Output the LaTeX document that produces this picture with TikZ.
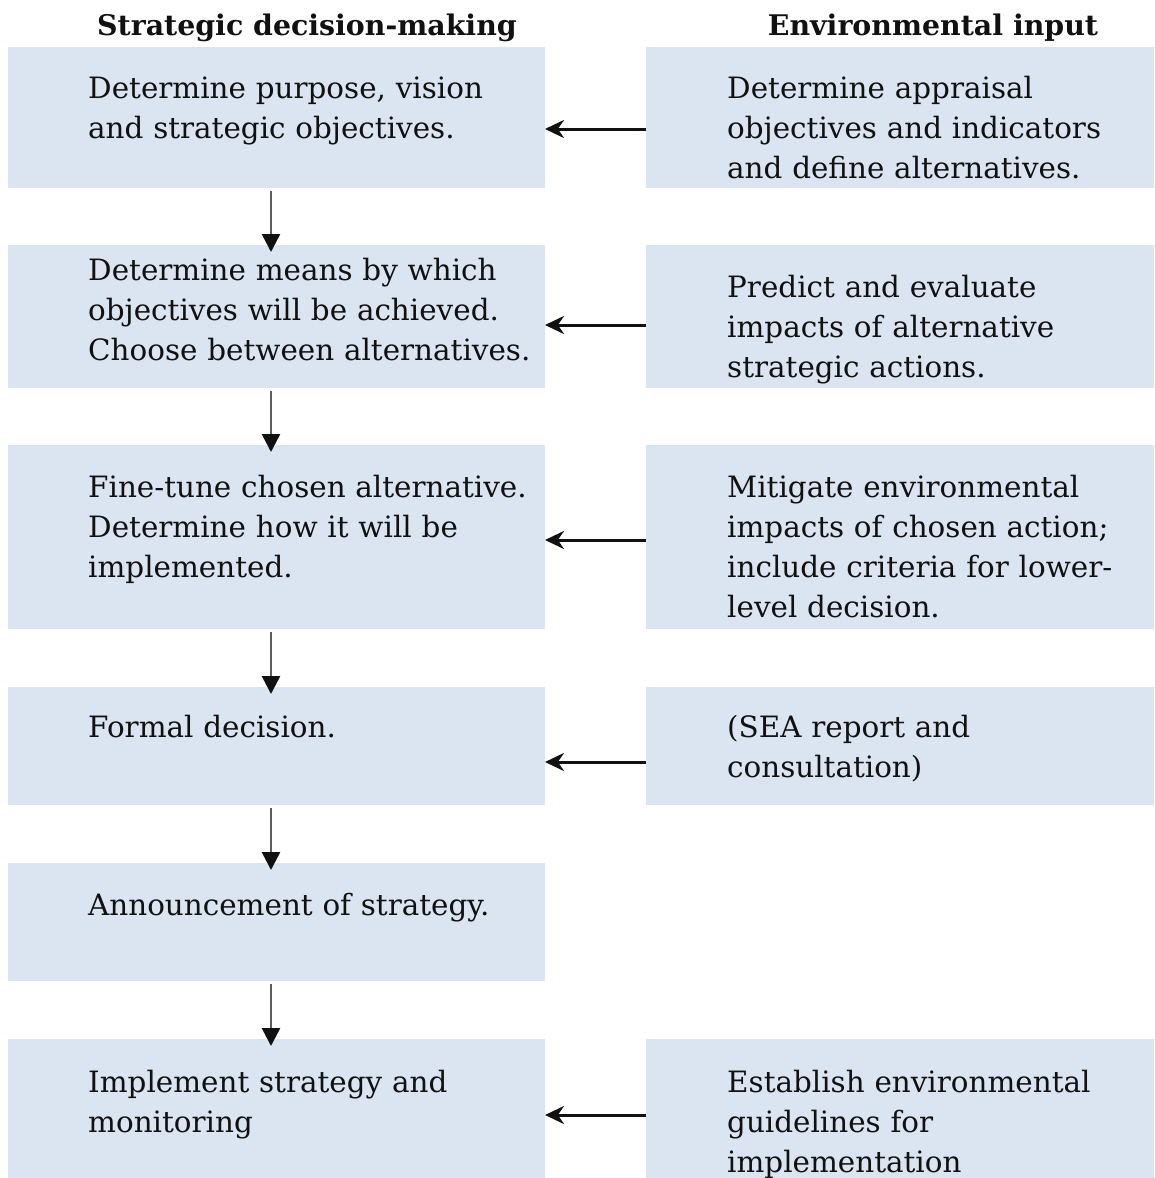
\documentclass[tikz,border=0pt]{standalone}
\usepackage{fontspec}
\setmainfont{DejaVu Serif}
\usepackage{xcolor}
\definecolor{panel}{HTML}{DBE5F1}
\definecolor{ink}{HTML}{111111}
\definecolor{stem}{HTML}{5E5E5E}
\usepackage{tikz}
\usetikzlibrary{arrows.meta,positioning}
\tikzset{
  stage/.style={fill=panel, minimum width=537pt, minimum height=#1, inner sep=0pt, outer sep=0pt},
  stage/.default=141pt,
  input/.style={stage=#1, minimum width=508pt},
  input/.default=141pt,
  body/.style={anchor=base west, inner sep=0pt, text=ink, align=left, text width=480pt, font=\fontsize{29.4}{40}\selectfont},
  head/.style={anchor=base, inner sep=0pt, text=ink, font=\bfseries\fontsize{28.4}{32}\selectfont},
  down/.style={draw=stem, line width=2.6pt, -{Triangle[length=18pt, width=18pt, color=ink]}, shorten <=3pt, shorten >=-7pt},
  feed/.style={draw=ink, line width=3pt, -{Stealth[length=19pt, width=18pt]}},
}

\begin{document}
\begin{tikzpicture}[x=1pt, y=-1pt, node distance=57pt]
  \useasboundingbox (0,0) rectangle (1154,1178);
  \node[head] (h-plan) at (307,35) {Strategic decision-making};
  \node[head] (h-env) at (933,35) {Environmental input};
  \node[stage=141pt] (purpose) at (276.5,117.5) {};
  \node[stage=143pt, below=of purpose] (means) {};
  \node[stage=184pt, below=of means] (tune) {};
  \node[stage=118pt, below=58pt of tune] (formal) {};
  \node[stage=118pt, below=58pt of formal] (announce) {};
  \node[stage=139pt, below=58pt of announce] (implement) {};
  \node[input=141pt, right=101pt of purpose] (appraisal) {};
  \node[input=143pt, right=101pt of means] (predict) {};
  \node[input=184pt, right=101pt of tune] (mitigate) {};
  \node[input=118pt, right=101pt of formal] (report) {};
  \node[input=139pt, right=101pt of implement] (guidelines) {};
  \node[body] (t-purpose) at ([xshift=80pt, yshift=-51pt]purpose.north west)
    {Determine purpose, vision\\and strategic objectives.};
  \node[body] (t-means) at ([xshift=80pt, yshift=-35pt]means.north west)
    {Determine means by which\\objectives will be achieved.\\Choose between alternatives.};
  \node[body] (t-tune) at ([xshift=80pt, yshift=-52pt]tune.north west)
    {Fine-tune chosen alternative.\\Determine how it will be\\implemented.};
  \node[body] (t-formal) at ([xshift=80pt, yshift=-50pt]formal.north west)
    {Formal decision.};
  \node[body] (t-announce) at ([xshift=80pt, yshift=-52pt]announce.north west)
    {Announcement of strategy.};
  \node[body] (t-implement) at ([xshift=80pt, yshift=-53pt]implement.north west)
    {Implement strategy and\\monitoring};
  \node[body] (t-appraisal) at ([xshift=81pt, yshift=-51pt]appraisal.north west)
    {Determine appraisal\\objectives and indicators\\and define alternatives.};
  \node[body] (t-predict) at ([xshift=81pt, yshift=-52pt]predict.north west)
    {Predict and evaluate\\impacts of alternative\\strategic actions.};
  \node[body] (t-mitigate) at ([xshift=81pt, yshift=-52pt]mitigate.north west)
    {Mitigate environmental\\impacts of chosen action;\\include criteria for lower-\\level decision.};
  \node[body] (t-report) at ([xshift=81pt, yshift=-50pt]report.north west)
    {(SEA report and\\consultation)};
  \node[body] (t-guidelines) at ([xshift=81pt, yshift=-53pt]guidelines.north west)
    {Establish environmental\\guidelines for\\implementation};
  \draw[down] ([xshift=-5.5pt]purpose.south) -- ([xshift=-5.5pt]means.north);
  \draw[down] ([xshift=-5.5pt]means.south) -- ([xshift=-5.5pt]tune.north);
  \draw[down] ([xshift=-5.5pt]tune.south) -- ([xshift=-5.5pt]formal.north);
  \draw[down] ([xshift=-5.5pt]formal.south) -- ([xshift=-5.5pt]announce.north);
  \draw[down] ([xshift=-5.5pt]announce.south) -- ([xshift=-5.5pt]implement.north);
  \draw[feed] ([yshift=-11.5pt]appraisal.west) -- ([yshift=-11.5pt]purpose.east);
  \draw[feed] ([yshift=-8.5pt]predict.west) -- ([yshift=-8.5pt]means.east);
  \draw[feed] ([yshift=-3pt]mitigate.west) -- ([yshift=-3pt]tune.east);
  \draw[feed] ([yshift=-16pt]report.west) -- ([yshift=-16pt]formal.east);
  \draw[feed] ([yshift=-6.5pt]guidelines.west) -- ([yshift=-6.5pt]implement.east);
\end{tikzpicture}
\end{document}
